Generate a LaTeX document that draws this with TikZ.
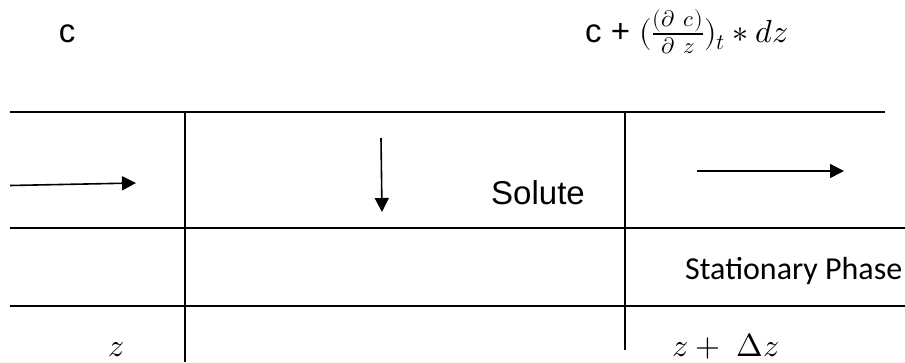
\documentclass[tikz,border=0pt]{standalone}
\usepackage{unicode-math}
\setmathfont{Latin Modern Math}
\newfontfamily\arial{Liberation Sans}
\newfontfamily\calibri{Carlito}
\usetikzlibrary{arrows.meta}
\tikzset{
  rule/.style={line width=1.4pt},
  wall/.style={line width=1.9pt},
  flow/.style={line width=1.6pt,-{Triangle[length=14pt,width=14pt]}},
  lbl/.style={inner sep=0pt,font=\fontsize{33}{40}\selectfont},
  mth/.style={inner sep=0pt,font=\fontsize{32}{38}\selectfont}
}
\begin{document}
\begin{tikzpicture}[x=1pt,y=-1pt,line cap=butt]
	\useasboundingbox (0,0) rectangle (905,362);
	\path (10,112)coordinate(TL) (885,112)coordinate(TR) (10,228)coordinate(ML) (905,228)coordinate(MR)
		(10,306)coordinate(BL) (905,306)coordinate(BR)
		(185,112)coordinate(W1) (185,362)coordinate(W1') (625,112)coordinate(W2) (625,350)coordinate(W2')
		(10,185.5)coordinate(In) (136,183)coordinate(In') (381,138)coordinate(D) (382,212)coordinate(D')
		(697,171)coordinate(Out) (844,171)coordinate(Out');
	% column and phase boundaries
	\draw[rule] (TL)--(TR) (ML)--(MR) (BL)--(BR);
	\draw[wall] (W1)--(W1') (W2)--(W2');
	% mobile phase flow and transfer to the stationary phase
	\draw[flow] (In)--(In');
	\draw[flow] (D)--(D');
	\draw[flow] (Out)--(Out');
	% labels
	\node[lbl,anchor=base] (c) at (67,42) {\arial c};
	\node[lbl,anchor=base west] (c') at (585,42) {\arial c + {\fontsize{32}{38}\selectfont$(\frac{(\partial\ c)}{\partial\ z})_t * dz$}};
	\node[lbl,anchor=base] (sol) at (538,204) {\arial Solute};
	\node[lbl,anchor=base west,font=\fontsize{32}{38}\selectfont] (sp) at (685,279) {\calibri Stationary Phase};
	\node[mth,anchor=base] (z) at (116,356) {$z$};
	\node[mth,anchor=base west] (z') at (672,356) {$z +\ \Delta z$};
\end{tikzpicture}
\end{document}
